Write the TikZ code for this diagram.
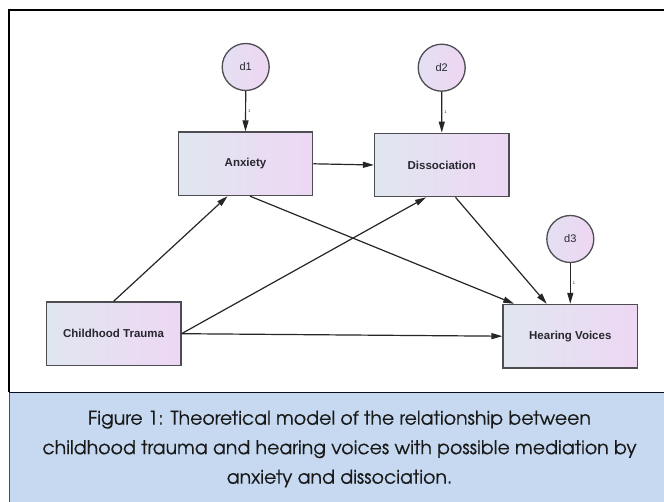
\documentclass[tikz,border=0pt]{standalone}
\usepackage{fontspec}
\setmainfont{Liberation Sans}
\newfontfamily\capfont[FakeBold=0.4]{texgyreadventor-regular.otf}
\usepackage{xcolor}
\usetikzlibrary{arrows.meta, positioning}
\definecolor{boxleft}{RGB}{224, 230, 240}
\definecolor{boxright}{RGB}{238, 215, 244}
\definecolor{errleft}{RGB}{228, 224, 243}
\definecolor{errright}{RGB}{238, 214, 242}
\definecolor{edge}{RGB}{78, 78, 82}
\definecolor{wire}{RGB}{38, 38, 40}
\definecolor{ink}{RGB}{40, 40, 48}
\definecolor{capfill}{RGB}{198, 217, 240}
\definecolor{capedge}{RGB}{52, 82, 128}

\begin{document}
\begin{tikzpicture}[x=1pt, y=-1pt,
  var/.style={rectangle, draw=edge, line width=1.3pt,
    left color=boxleft, right color=boxright,
    font=\fontsize{11.5pt}{13pt}\selectfont\bfseries, text=ink,
    minimum width=134.5pt, minimum height=63.5pt, inner sep=0pt},
  err/.style={circle, draw=edge, line width=1.3pt,
    left color=errleft, right color=errright,
    font=\fontsize{11pt}{13pt}\selectfont, text=ink,
    minimum size=47pt, inner sep=0pt},
  arr/.style={-{Triangle[length=11pt, width=6pt]}, line width=1.2pt, color=wire},
  fix/.style={font=\fontsize{4pt}{4pt}\selectfont, text=ink, inner sep=1pt}
]
\useasboundingbox (0,0) rectangle (664,502);
% Frame and caption panel
\fill[white] (0,0) rectangle (664,502);
\fill[capfill] (9.3,392.5) rectangle (670,510);
\draw[capedge, line width=1.6pt] (9.3,392.5) -- (9.3,510);
\draw[black, line width=2pt] (9.3,392.5) -- (9.3,10) -- (670,10);
\draw[black!80!capedge, line width=1.6pt] (9.3,392.5) -- (670,392.5);
% Observed variables
\node[var] at (245.5,163.8) (anx)    {Anxiety};
\node[var] at (441.8,165.0) (dis)    {Dissociation};
\node[var] at (113.6,333.7) (trauma) {Childhood Trauma};
\node[var] at (570.3,336.2) (hv)     {Hearing Voices};
% Error terms
\node[err] at (245.7,67.0)  (d1) {d1};
\node[err] at (441.7,67.7)  (d2) {d2};
\node[err] at (570.3,239.0) (d3) {d3};
% Error paths
\draw[arr] (d1.south) -- (anx.north) node[midway, right=1pt, fix] {1};
\draw[arr] (d2.south) -- (dis.north) node[midway, right=1pt, fix] {1};
\draw[arr] (d3.south) -- (hv.north)  node[midway, right=1pt, fix] {1};
% Structural paths
\draw[arr] (anx.east) -- (dis.west);
\draw[arr] (trauma.north) -- (anx.241);
\draw[arr] (trauma.east) -- (dis.244);
\draw[arr] (trauma.east) -- (hv.west);
\draw[arr] (anx.278) -- (hv.150);
\draw[arr] (dis.293) -- (hv.126);
% Caption
\node[font=\capfont\fontsize{18.9pt}{29.5pt}\selectfont, text=black!90,
      align=center] at (339.5,449) (cap)
  {Figure 1: Theoretical model of the relationship between\\
   childhood trauma and hearing voices with possible mediation by\\
   anxiety and dissociation.};
\end{tikzpicture}
\end{document}
